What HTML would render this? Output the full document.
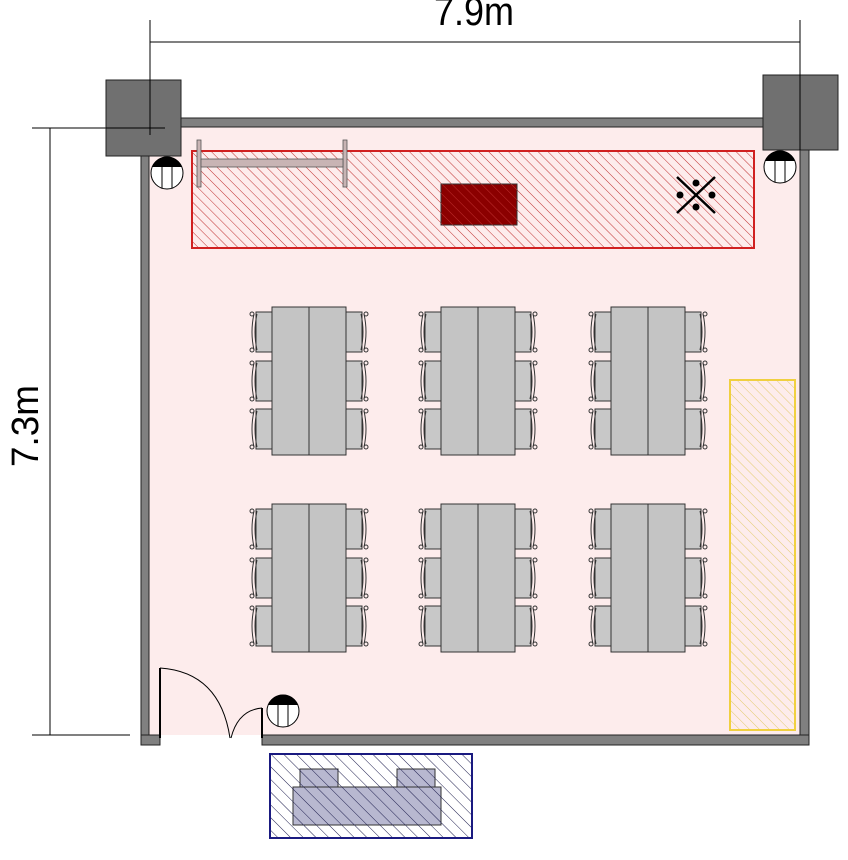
<!DOCTYPE html>
<html><head><meta charset="utf-8"><style>html,body{margin:0;padding:0;background:#fff}svg{display:block}</style></head>
<body>
<svg width="848" height="860" viewBox="0 0 848 860" xmlns="http://www.w3.org/2000/svg">
<defs>
<pattern id="hr" width="7" height="7" patternUnits="userSpaceOnUse" patternTransform="rotate(-45)"><line x1="0" y1="0" x2="0" y2="7" stroke="#c03030" stroke-width="1"/></pattern>
<pattern id="hy" width="7" height="7" patternUnits="userSpaceOnUse" patternTransform="rotate(-45)"><line x1="0" y1="0" x2="0" y2="7" stroke="#e0c860" stroke-width="0.9"/></pattern>
<pattern id="hb" width="9" height="9" patternUnits="userSpaceOnUse" patternTransform="rotate(-45)"><line x1="0" y1="0" x2="0" y2="9" stroke="#202050" stroke-width="1"/></pattern>
<g id="chairL">
<rect x="256" y="0" width="16" height="40" fill="#c8c8c8" stroke="#333" stroke-width="1"/>
<path d="M254 2 Q250 20 254 38" fill="none" stroke="#333"/>
<path d="M257 2 Q253 20 257 38" fill="none" stroke="#333"/>
<circle cx="252" cy="2" r="2" fill="none" stroke="#333"/><circle cx="252" cy="38" r="2" fill="none" stroke="#333"/>
</g>
<g id="grp">
<use href="#chairL" y="312"/><use href="#chairL" y="361"/><use href="#chairL" y="409"/>
<g transform="translate(618,0) scale(-1,1)"><use href="#chairL" y="312"/><use href="#chairL" y="361"/><use href="#chairL" y="409"/></g>
<rect x="272" y="307" width="74" height="148" fill="#c4c4c4" stroke="#333"/>
<line x1="309" y1="307" x2="309" y2="455" stroke="#333"/>
</g>
</defs>
<!-- dimension lines -->
<line x1="150" y1="20" x2="150" y2="135" stroke="#000"/>
<line x1="800" y1="20" x2="800" y2="145" stroke="#000"/>
<line x1="150" y1="42" x2="800" y2="42" stroke="#000"/>
<text x="474" y="25" font-family="Liberation Sans, sans-serif" font-size="40" text-anchor="middle" textLength="80" lengthAdjust="spacingAndGlyphs">7.9m</text>
<line x1="32" y1="128" x2="165" y2="128" stroke="#000"/>
<line x1="32" y1="735" x2="130" y2="735" stroke="#000"/>
<line x1="50" y1="128" x2="50" y2="735" stroke="#000"/>
<text transform="translate(38,426) rotate(-90)" font-family="Liberation Sans, sans-serif" font-size="38" text-anchor="middle" textLength="82" lengthAdjust="spacingAndGlyphs">7.3m</text>
<!-- interior -->
<rect x="149" y="127" width="651" height="608" fill="#fdecec"/>
<!-- walls -->
<rect x="181" y="118" width="582" height="9" fill="#808080" stroke="#222" stroke-width="1"/>
<rect x="141" y="156" width="8" height="589" fill="#808080" stroke="#222" stroke-width="1"/>
<rect x="800" y="150" width="9" height="595" fill="#808080" stroke="#222" stroke-width="1"/>
<rect x="141" y="735" width="19" height="10" fill="#808080" stroke="#222" stroke-width="1"/>
<rect x="262" y="735" width="547" height="10" fill="#808080" stroke="#222" stroke-width="1"/>
<rect x="106" y="80" width="75" height="76" fill="#707070" stroke="#222"/>
<rect x="763" y="75" width="75" height="75" fill="#707070" stroke="#222"/>
<line x1="150" y1="20" x2="150" y2="135" stroke="#000"/>
<line x1="800" y1="20" x2="800" y2="150" stroke="#000"/>
<line x1="106" y1="128" x2="165" y2="128" stroke="#000"/>
<!-- red zone -->
<rect x="192" y="151" width="562" height="97" fill="url(#hr)" stroke="#d02020" stroke-width="2"/>
<rect x="441" y="184" width="76" height="41" fill="#8b0000" stroke="#333"/>
<rect x="441" y="184" width="76" height="41" fill="url(#hr)"/>
<rect x="197" y="140" width="4" height="47" fill="#c8b4b4" stroke="#555" stroke-width="0.8"/>
<rect x="343" y="140" width="4" height="47" fill="#c8b4b4" stroke="#555" stroke-width="0.8"/>
<rect x="201" y="159" width="142" height="8" fill="#c8b4b4" stroke="#555" stroke-width="0.8"/>
<g transform="translate(696,195)" stroke="#000" stroke-width="2.5">
<line x1="-19" y1="-18" x2="19" y2="18"/><line x1="19" y1="-18" x2="-19" y2="18"/>
<circle cx="0" cy="-12" r="3.5" fill="#000" stroke="none"/><circle cx="0" cy="12" r="3.5" fill="#000" stroke="none"/>
<circle cx="-16" cy="0" r="3.5" fill="#000" stroke="none"/><circle cx="16" cy="0" r="3.5" fill="#000" stroke="none"/>
</g>
<!-- lights -->
<g id="light" transform="translate(167,173)">
<circle r="16" fill="#fff" stroke="#000"/>
<path d="M-15 -6 A16 16 0 0 1 15 -6 Z" fill="#000"/>
<line x1="-5" y1="-6" x2="-5" y2="15" stroke="#000"/><line x1="5" y1="-6" x2="5" y2="15" stroke="#000"/>
</g>
<use href="#light" transform="translate(613,-6)"/>
<use href="#light" transform="translate(116,538)"/>
<!-- tables -->
<use href="#grp"/><use href="#grp" x="169"/><use href="#grp" x="339"/>
<use href="#grp" y="197"/><use href="#grp" x="169" y="197"/><use href="#grp" x="339" y="197"/>
<!-- yellow -->
<rect x="730" y="380" width="65" height="350" fill="url(#hy)" stroke="#f0d040" stroke-width="2"/>
<!-- door -->
<line x1="160" y1="668" x2="160" y2="738" stroke="#000" stroke-width="2"/>
<path d="M160 668 Q220 672 230 738" fill="none" stroke="#000"/>
<line x1="262" y1="708" x2="262" y2="738" stroke="#000" stroke-width="2"/>
<path d="M262 708 Q238 710 231 738" fill="none" stroke="#000"/>
<!-- blue -->
<rect x="270" y="754" width="202" height="84" fill="#fff" stroke="#1a1a80" stroke-width="2"/>
<rect x="300" y="769" width="38" height="18" fill="#b8b8d0" stroke="#333"/>
<rect x="397" y="769" width="38" height="18" fill="#b8b8d0" stroke="#333"/>
<rect x="293" y="787" width="148" height="38" fill="#b8b8d0" stroke="#333"/>
<rect x="270" y="754" width="202" height="84" fill="url(#hb)" stroke="#1a1a80" stroke-width="2"/>
</svg>
</body></html>
